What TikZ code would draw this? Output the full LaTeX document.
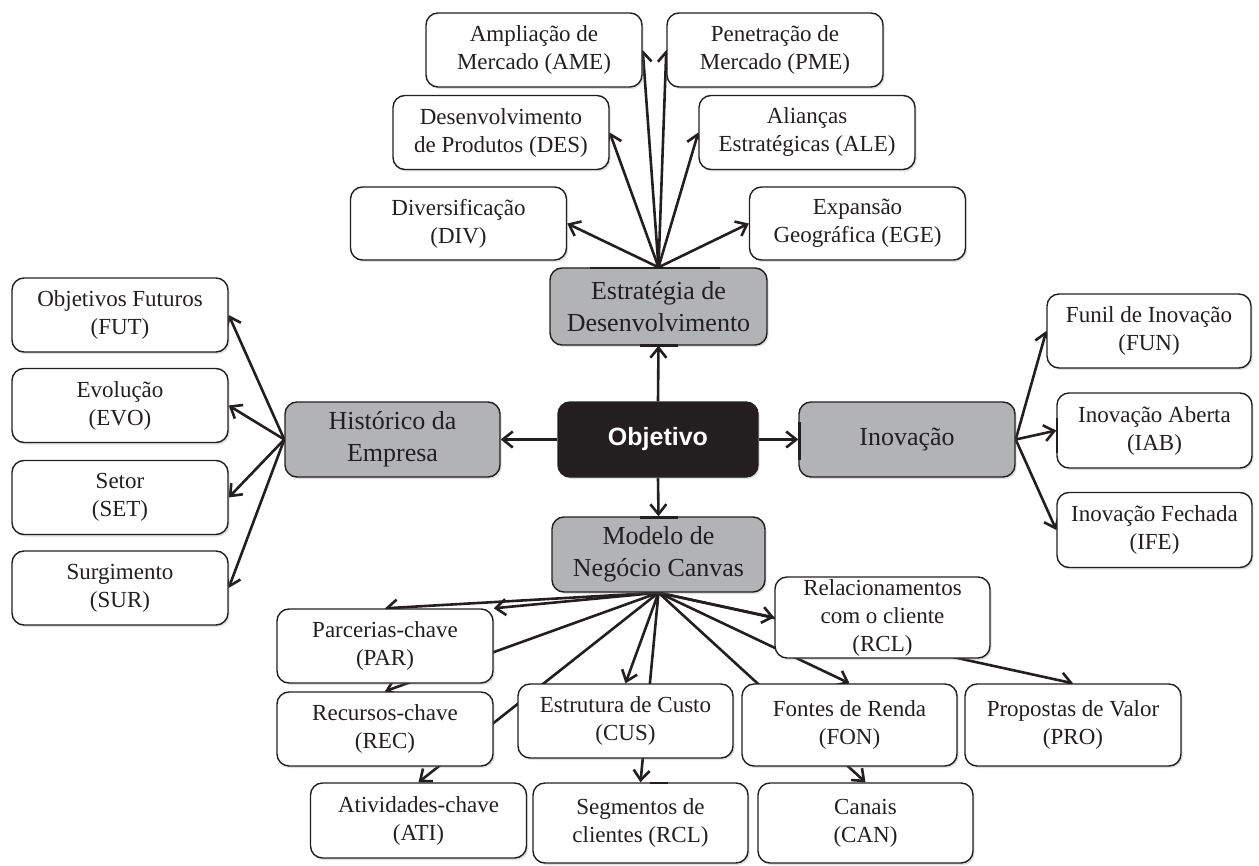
\documentclass[tikz,border=0pt]{standalone}
\usepackage{fontspec}
\setmainfont{Liberation Serif}
\newfontfamily\headfont{Liberation Sans}
\usetikzlibrary{arrows.meta,shadows}
\pgfdeclarelayer{links}
\pgfsetlayers{links,main}
\definecolor{ink}{HTML}{231F20}
\definecolor{panel}{HTML}{B2B3B5}
\tikzset{
  card/.style={draw=ink, line width=0.7pt, rounded corners=6pt, fill=white,
    align=center, text=ink, inner sep=0pt,
    font=\fontsize{11.5}{14}\selectfont,
    drop shadow={shadow xshift=0.8pt, shadow yshift=-1pt, opacity=0.25}},
  topic/.style={card, fill=panel, font=\fontsize{13}{15.8}\selectfont},
  core/.style={card, fill=ink, text=white,
    font=\headfont\bfseries\fontsize{12.5}{15}\selectfont},
  wide/.style={minimum width=108pt, minimum height=37pt},
  link/.style={draw=ink, line width=1.3pt, -{Straight Barb[length=5pt,width=8pt]}},
  seam/.style={draw=ink, line width=1.3pt},
}
\begin{document}
\begin{tikzpicture}[x=0.5pt,y=-0.5pt]
\useasboundingbox (0,0) rectangle (1259,866);

% centre and the four topics
\node[core, minimum width=100pt, minimum height=37.5pt] (OBJ) at (658,439.5) {Objetivo};
\node[topic, minimum width=108.5pt, minimum height=38.5pt] (EST) at (658.5,306.5) {Estratégia de\\Desenvolvimento};
\node[topic, minimum width=107.5pt, minimum height=37.5pt] (HIS) at (392.5,439.5) {Histórico da\\Empresa};
\node[topic, minimum width=108pt, minimum height=37.5pt] (INO) at (907,439.5) {Inovação};
\node[topic, minimum width=106.5pt, minimum height=37.5pt] (MOD) at (658.5,554.5) {Modelo de\\Negócio Canvas};

% development strategy
\node[card, wide] (AME) at (534,50) {Ampliação de\\Mercado (AME)};
\node[card, wide] (PME) at (775,50) {Penetração de\\Mercado (PME)};
\node[card, wide] (DES) at (501,132.5) {Desenvolvimento\\de Produtos (DES)};
\node[card, wide] (ALE) at (807,132.5) {Alianças\\Estratégicas (ALE)};
\node[card, wide, minimum height=36.5pt] (DIV) at (458.5,223.5) {Diversificação\\(DIV)};
\node[card, wide, minimum height=36.5pt] (EGE) at (857.5,223.5) {Expansão\\Geográfica (EGE)};

% company history
\node[card, wide] (FUT) at (120,315) {Objetivos Futuros\\(FUT)};
\node[card, wide] (EVO) at (120,405.5) {Evolução\\(EVO)};
\node[card, wide] (SET) at (120,497.5) {Setor\\(SET)};
\node[card, wide] (SUR) at (120,588) {Surgimento\\(SUR)};

% innovation
\node[card, minimum width=102pt, minimum height=37pt] (FUN) at (1149,331) {Funil de Inovação\\(FUN)};
\node[card, minimum width=97.5pt, minimum height=37.5pt] (IAB) at (1154.5,430.5) {Inovação Aberta\\(IAB)};
\node[card, minimum width=97.5pt, minimum height=37.5pt] (IFE) at (1154.5,530) {Inovação Fechada\\(IFE)};

% business model canvas
\node[card, minimum width=107.5pt, minimum height=40.5pt] (RCL) at (882.5,617.5) {Relacionamentos\\com o cliente\\(RCL)};
\node[card, wide] (PAR) at (385,646) {Parcerias-chave\\(PAR)};
\node[card, wide] (REC) at (385,729) {Recursos-chave\\(REC)};
\node[card, wide, minimum height=37.5pt] (ATI) at (418.5,820.5) {Atividades-chave\\(ATI)};
\node[card, minimum width=107.5pt, minimum height=37pt] (CUS) at (625.5,721) {Estrutura de Custo\\(CUS)};
\node[card, minimum width=107.5pt, minimum height=40pt] (SEG) at (640.5,823) {Segmentos de\\clientes (RCL)};
\node[card, minimum width=107.5pt, minimum height=41pt] (FON) at (849.5,725) {Fontes de Renda\\(FON)};
\node[card, minimum width=107.5pt, minimum height=40pt] (CAN) at (865.5,823) {Canais\\(CAN)};
\node[card, minimum width=108pt, minimum height=41pt] (PRO) at (1073,725) {Propostas de Valor\\(PRO)};

% darker joins along some box edges
\draw[seam] (590,268) -- (720,268);
\draw[seam] (640,345.5) -- (678,345.5);
\draw[seam] (640,517.5) -- (678,517.5);
\draw[seam] (799.5,422) -- (799.5,460);
\draw[seam] (1057,418) -- (1057,453);
\draw[seam] (650,783) -- (668,783);

\begin{pgfonlayer}{links}
  % from the centre
  \draw[link] (OBJ.north) -- (EST.south);
  \draw[link] (OBJ.west) -- (HIS.east);
  \draw[link] (OBJ.east) -- (INO.west);
  \draw[link] (OBJ.south) -- (MOD.north);
  % strategy fan
  \draw[link] (EST.north) -- (AME.east);
  \draw[link] (EST.north) -- (PME.west);
  \draw[link] (EST.north) -- (DES.east);
  \draw[link] (EST.north) -- (ALE.west);
  \draw[link] (EST.north) -- (DIV.east);
  \draw[link] (EST.north) -- (EGE.west);
  % history fan
  \draw[link] (HIS.west) -- (FUT.east);
  \draw[link] (HIS.west) -- (EVO.east);
  \draw[link] (HIS.west) -- (SET.east);
  \draw[link] (HIS.west) -- (SUR.east);
  % innovation fan
  \draw[link] (INO.east) -- (FUN.west);
  \draw[link] (INO.east) -- (IAB.west);
  \draw[link] (INO.east) -- (IFE.west);
  % canvas fan
  \draw[link] (MOD.south) -- (PAR.north);
  \draw[link] (MOD.south) -- (PAR.north east);
  \draw[link] (MOD.south) -- (REC.north);
  \draw[link] (MOD.south) -- (ATI.north);
  \draw[link] (MOD.south) -- (CUS.north);
  \draw[link] (MOD.south) -- (SEG.north);
  \draw[link] (MOD.south) -- (RCL.west);
  \draw[link] (MOD.south) -- (FON.north);
  \draw[link] (MOD.south) -- (CAN.north);
  \draw[link] (MOD.south) -- (PRO.north);
\end{pgfonlayer}
\end{tikzpicture}
\end{document}
